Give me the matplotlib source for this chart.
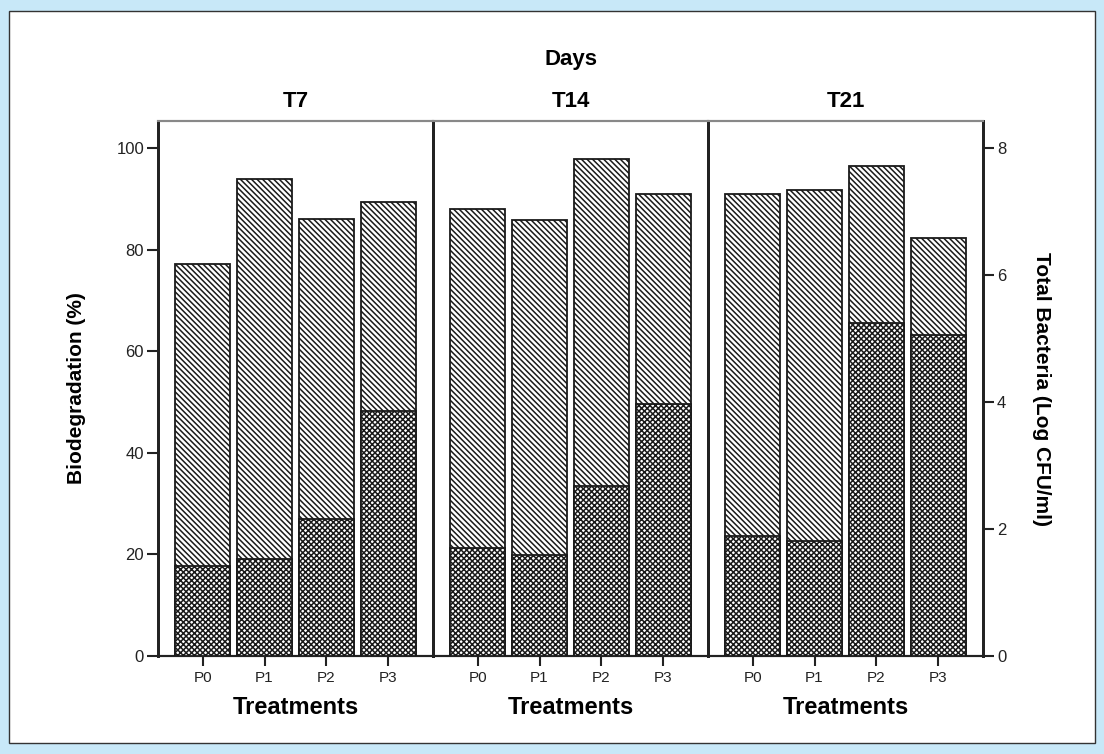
import matplotlib
matplotlib.use("Agg")
import matplotlib.pyplot as plt
from matplotlib.patches import Rectangle

plt.rcParams['font.family'] = ['Liberation Sans', 'DejaVu Sans']
plt.rcParams['hatch.linewidth'] = 1.1

days = ["T7", "T14", "T21"]
treatments = ["P0", "P1", "P2", "P3"]
# Biodegradation (%) - diagonal hatched bars
biodeg = {
    "T7": [77.2, 93.9, 86.0, 89.4],
    "T14": [88.0, 85.8, 97.8, 90.9],
    "T21": [90.9, 91.7, 96.5, 82.3],
}
# Total Bacteria (Log CFU/ml) - cross hatched bars
bacteria = {
    "T7": [1.42, 1.53, 2.16, 3.86],
    "T14": [1.70, 1.59, 2.68, 3.97],
    "T21": [1.89, 1.81, 5.25, 5.06],
}
left_ticks = [0, 20, 40, 60, 80, 100]
right_ticks = [0, 2, 4, 6, 8]

W, H = 1104, 754
fig = plt.figure(figsize=(W / 100, H / 100), dpi=100)
fig.patch.set_facecolor('#c8e8f8')
bg = Rectangle((9 / W, 1 - 743 / H), (1095 - 9) / W, (743 - 11) / H,
               transform=fig.transFigure, facecolor='white',
               edgecolor='#333333', linewidth=1.0, zorder=-10)
fig.add_artist(bg)

left, right, top, bottom = 158 / W, 983 / W, 1 - 121 / H, 1 - 656 / H
pw = (right - left) / 3
ylim_left = 100 * (656 - 121) / (656 - 148)
ylim_right = ylim_left * 8 / 100

x = list(range(len(treatments)))
for i, d in enumerate(days):
    ax = fig.add_axes([left + i * pw, bottom, pw, top - bottom])
    ax.set_facecolor('none')
    ax2 = ax.twinx()
    ax.bar(x, biodeg[d], width=0.9, color='white', edgecolor='#1a1a1a',
           linewidth=1.3, hatch='\\' * 6, zorder=2)
    ax2.bar(x, bacteria[d], width=0.9, color='white', edgecolor='#1a1a1a',
            linewidth=1.3, hatch='x' * 6, zorder=3)
    ax.set_xlim(-0.72, 3.72)
    ax.set_ylim(0, ylim_left)
    ax2.set_ylim(0, ylim_right)
    ax.set_xticks(x)
    ax.set_xticklabels(treatments, fontsize=11)
    ax.tick_params(axis='x', direction='out', length=7, width=1.5, pad=4, colors='#222222')
    for a in (ax, ax2):
        a.spines['top'].set_color('#888888')
        a.spines['top'].set_linewidth(1.5)
        a.spines['bottom'].set_color('#222222')
        a.spines['bottom'].set_linewidth(1.5)
        a.spines['left'].set_color('#222222')
        a.spines['left'].set_linewidth(2.0)
        a.spines['right'].set_color('#222222')
        a.spines['right'].set_linewidth(2.0)
    if i == 0:
        ax.set_yticks(left_ticks)
        ax.set_yticklabels([str(t) for t in left_ticks], fontsize=12)
        ax.tick_params(axis='y', direction='out', length=8, width=1.5, pad=2, colors='#222222')
        ax.set_ylabel("Biodegradation (%)", fontsize=15, fontweight='bold', labelpad=22)
    else:
        ax.set_yticks([])
    if i == 2:
        ax2.set_yticks(right_ticks)
        ax2.set_yticklabels([str(t) for t in right_ticks], fontsize=12)
        ax2.tick_params(axis='y', direction='out', length=8, width=1.5, pad=2, colors='#222222')
        ax2.set_ylabel("Total Bacteria (Log CFU/ml)", fontsize=15, fontweight='bold',
                       rotation=270, labelpad=32)
    else:
        ax2.set_yticks([])
    ax.set_xlabel("Treatments", fontsize=17, fontweight='bold', labelpad=8)
    ax.set_title(d, fontsize=16, fontweight='bold', pad=10)

fig.text((left + right) / 2, 1 - 60 / H, "Days", ha='center', va='center',
         fontsize=16, fontweight='bold')

fig.savefig("out.png", dpi=100, facecolor=fig.get_facecolor())
